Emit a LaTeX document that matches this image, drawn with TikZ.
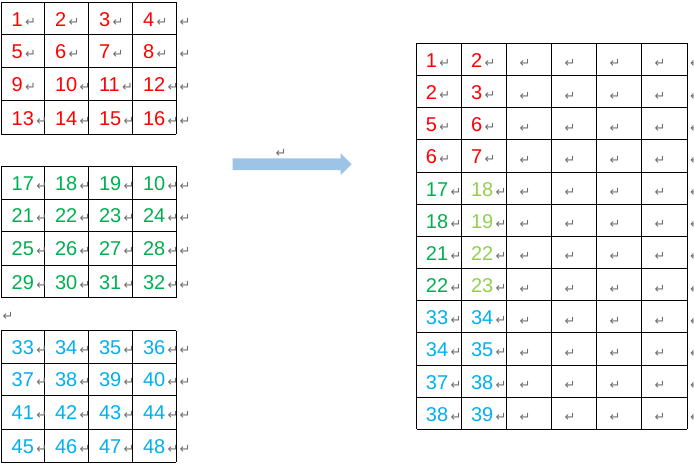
\documentclass[tikz,border=0pt]{standalone}
\usepackage{fontspec}
\setmainfont{Liberation Sans}
\newfontfamily\markfont{DejaVu Sans}
\definecolor{cred}{HTML}{FF0000}
\definecolor{cgreen}{HTML}{00B050}
\definecolor{clgreen}{HTML}{92D050}
\definecolor{cblue}{HTML}{00B0F0}
\definecolor{markgray}{HTML}{6F6F6F}
\definecolor{arrowblue}{HTML}{9DC3E6}
\tikzset{
  gridline/.style={line width=0.8pt, black},
  num/.style={anchor=base west, inner sep=0pt, font=\fontsize{20}{20}\selectfont},
  pmark/.style={anchor=base west, inner sep=0pt, text=markgray, font=\markfont\fontsize{13}{13}\selectfont},
}
% left table: #1 name, #2 colour, #3 five row lines, #4 sixteen numbers
\newcommand\ltab[4]{%
  \foreach \yy in {#3} \draw[gridline] (1,\yy) -- (176,\yy);
  \pgfmathsetmacro\ytop{{#3}[0]}%
  \pgfmathsetmacro\ybot{{#3}[4]}%
  \foreach \xx in {1,44.3,88.3,132.3,176} \draw[gridline] (\xx,\ytop) -- (\xx,\ybot);
  \foreach \n [count=\k from 0] in {#4} {
    \pgfmathtruncatemacro\i{int(\k/4)}
    \pgfmathtruncatemacro\j{mod(\k,4)}
    \pgfmathsetmacro\xl{{1,44.3,88.3,132.3}[\j]}
    \pgfmathsetmacro\yt{{#3}[\i]}
    \pgfmathsetmacro\yb{{#3}[\i+1]}
    \node[num, text=#2] (#1-\k) at (\xl+10.5, {(\yt+\yb)/2+7.5}) {\n};
    \node[pmark] (#1-\k m) at ([xshift=2pt,yshift=0pt]#1-\k.base east) {↵};
  }
  \foreach \i in {0,1,2,3} {
    \pgfmathsetmacro\yt{{#3}[\i]}
    \pgfmathsetmacro\yb{{#3}[\i+1]}
    \node[pmark] (#1-end\i) at (179.5, {(\yt+\yb)/2+7.5}) {↵};
  }
}
\begin{document}
\begin{tikzpicture}[x=1pt,y=-1pt]
\useasboundingbox (0,0) rectangle (694,467);
\clip (0,0) rectangle (694,467);
\ltab{ta}{cred}{2.3,34.7,67.3,100.7,134.3}{1,2,3,4,5,6,7,8,9,10,11,12,13,14,15,16}
\ltab{tb}{cgreen}{166,199.3,231.3,265.3,297.7}{17,18,19,10,21,22,23,24,25,26,27,28,29,30,31,32}
\ltab{tc}{cblue}{330.7,363,395.7,429,462.3}{33,34,35,36,37,38,39,40,41,42,43,44,45,46,47,48}
\node[pmark] (gapmark) at (2.5,320) {↵};
% arrow
\fill[arrowblue] (232.7,158.3) -- (340.7,158.3) -- (340.7,153.3) -- (351.7,164.2)
  -- (340.7,175) -- (340.7,170) -- (232.7,170) -- cycle;
\node[pmark] (arrowmark) at (275.5,157) {↵};
% right table
\foreach \i in {0,...,12} \draw[gridline] (416.7,{43.3+\i*32.17}) -- (687.3,{43.3+\i*32.17});
\foreach \xx in {416.7,461.3,506.3,551.3,596.3,641.3,687.3}
  \draw[gridline] (\xx,43.3) -- (\xx,429.34);
\foreach \a/\ca/\b/\cb [count=\k from 0] in {1/cred/2/cred,2/cred/3/cred,5/cred/6/cred,6/cred/7/cred,
  17/cgreen/18/clgreen,18/cgreen/19/clgreen,21/cgreen/22/clgreen,22/cgreen/23/clgreen,
  33/cblue/34/cblue,34/cblue/35/cblue,37/cblue/38/cblue,38/cblue/39/cblue} {
  \pgfmathsetmacro\yb{43.3+\k*32.17+16.08+8}
  \node[num, text=\ca] (r-\k-a) at (425.7,\yb) {\a};
  \node[pmark] (r-\k-am) at ([xshift=2pt,yshift=0pt]r-\k-a.base east) {↵};
  \node[num, text=\cb] (r-\k-b) at (470.8,\yb) {\b};
  \node[pmark] (r-\k-bm) at ([xshift=2pt,yshift=0pt]r-\k-b.base east) {↵};
  \foreach \xx [count=\c] in {506.3,551.3,596.3,641.3}
    \node[pmark] (r-\k-e\c) at (\xx+13,\yb+0.5) {↵};
  \node[pmark] (r-\k-end) at (690,\yb+0.5) {↵};
}
\end{tikzpicture}
\end{document}
